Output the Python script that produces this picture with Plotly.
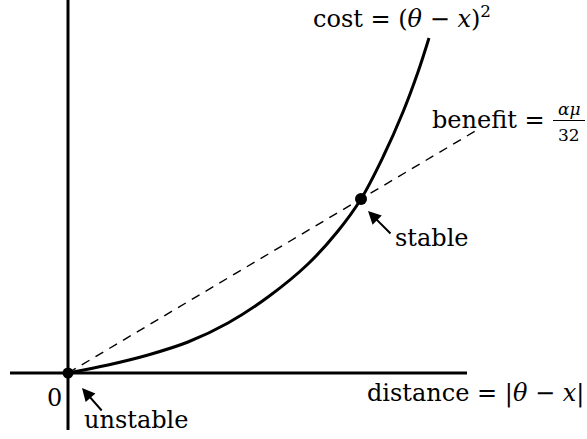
import plotly.graph_objects as go

# Cost curve samples (distance, cost), origin at (0, 0)
cost_x = [0.00, 0.40, 0.80, 1.20, 1.60, 2.00, 2.40, 2.70, 2.93, 3.15, 3.35, 3.50, 3.61]
cost_y = [0.00, 0.08, 0.18, 0.31, 0.50, 0.76, 1.09, 1.42, 1.74, 2.16, 2.61, 3.01, 3.35]

# Constant-slope benefit line
benefit_x = [0.00, 4.09]
benefit_y = [0.00, 2.43]

# Equilibria
eq_x = [0.00, 2.93]
eq_y = [0.00, 1.74]
eq_names = ["unstable", "stable"]

# Hand-drawn axis extents
haxis_x = [-0.58, 3.99]
vaxis_y = [-0.57, 3.73]

FONT = "DejaVu Serif"
FS = 24
INK = "black"

fig = go.Figure()

# axes
fig.add_trace(go.Scatter(x=haxis_x, y=[0, 0], mode="lines",
                         line=dict(color=INK, width=3), hoverinfo="skip"))
fig.add_trace(go.Scatter(x=[0, 0], y=vaxis_y, mode="lines",
                         line=dict(color=INK, width=3), hoverinfo="skip"))

# benefit (dashed) and cost (solid)
fig.add_trace(go.Scatter(x=benefit_x, y=benefit_y, mode="lines",
                         line=dict(color=INK, width=1.4, dash="9px,7px")))
fig.add_trace(go.Scatter(x=cost_x, y=cost_y, mode="lines",
                         line=dict(color=INK, width=3, shape="spline", smoothing=1.0)))

# equilibrium dots
fig.add_trace(go.Scatter(x=eq_x, y=eq_y, mode="markers",
                         marker=dict(color=INK, size=[11, 12], opacity=1,
                                     line=dict(width=0))))

def label(x, y, text, xanchor="left", size=FS):
    fig.add_annotation(x=x, y=y, text=text, showarrow=False, xanchor=xanchor,
                       yanchor="middle", font=dict(family=FONT, size=size, color=INK))

label(2.43, 3.56, "cost = (<i>θ</i> − <i>x</i>)<sup>2</sup>")
label(3.62, 2.53, "benefit =")
# fraction alpha*mu / 32
label(5.01, 2.64, "<i>αμ</i>", xanchor="center", size=17)
label(5.01, 2.38, "32", xanchor="center", size=17)
fig.add_shape(type="line", x0=4.85, x1=5.17, y0=2.525, y1=2.525,
              line=dict(color=INK, width=1))
label(2.97, -0.20, "distance = |<i>θ</i> − <i>x</i>|")
label(-0.135, -0.25, "0", xanchor="center")
label(0.14, -0.47, eq_names[0])
label(3.25, 1.35, eq_names[1])

# arrows pointing at the equilibria
def arrow(hx, hy, tx, ty):
    fig.add_annotation(x=hx, y=hy, ax=tx, ay=ty, xref="x", yref="y",
                       axref="x", ayref="y", text="", showarrow=True,
                       arrowhead=2, arrowsize=1.3, arrowwidth=2, arrowcolor=INK)

arrow(0.14, -0.15, 0.35, -0.39)
arrow(3.00, 1.62, 3.24, 1.38)

fig.update_layout(
    width=587, height=439, margin=dict(l=0, r=0, t=0, b=0),
    plot_bgcolor="white", paper_bgcolor="white", showlegend=False,
    xaxis=dict(range=[-0.68, 5.19], visible=False),
    yaxis=dict(range=[-0.66, 3.73], visible=False),
)

fig.write_html("out.html")
